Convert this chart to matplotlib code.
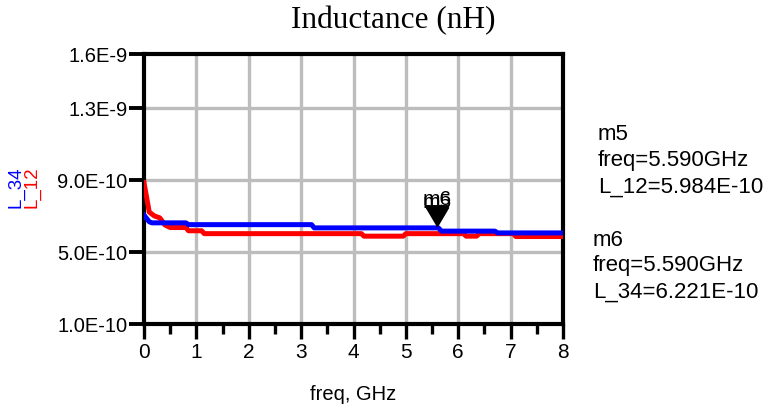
import numpy as np
import matplotlib.pyplot as plt
from matplotlib.path import Path

# data (freq in GHz, inductance in H)
freq_12 = [0.0, 0.1, 0.2, 0.3, 0.4, 0.5, 0.8, 0.85, 1.1, 1.15, 4.15, 4.2, 4.95, 5.0,
           6.1, 6.15, 6.35, 6.4, 7.05, 7.1, 8.0]
L_12 = [0.885, 0.722, 0.70, 0.69, 0.65, 0.636, 0.636, 0.618, 0.618, 0.602, 0.602, 0.588,
        0.588, 0.602, 0.602, 0.588, 0.588, 0.602, 0.602, 0.586, 0.586]
freq_34 = [0.0, 0.1, 0.15, 0.8, 0.85, 3.2, 3.25, 5.62, 5.68, 6.7, 6.75, 8.0]
L_34 = [0.705, 0.668, 0.662, 0.662, 0.652, 0.652, 0.634, 0.634, 0.616, 0.616, 0.606, 0.606]
L_12 = [v * 1e-9 for v in L_12]
L_34 = [v * 1e-9 for v in L_34]

m_freq = 5.59
m5_val = 5.984e-10
m6_val = 6.221e-10

yticks = [1.0e-10, 5.0e-10, 9.0e-10, 1.3e-9, 1.6e-9]
ytick_labels = ["1.0E-10", "5.0E-10", "9.0E-10", "1.3E-9", "1.6E-9"]
xticks = [0, 1, 2, 3, 4, 5, 6, 7, 8]

sans = "Liberation Sans"

fig = plt.figure(figsize=(7.66, 4.08), dpi=100)
ax = fig.add_axes([144 / 766, 1 - 324 / 408, (563 - 144) / 766, (324 - 54) / 408])

# grid
for x in xticks[1:-1]:
    ax.axvline(x, color="#bdbdbd", lw=2.4, zorder=1)
for y in yticks[1:-1]:
    ax.axhline(y, color="#bdbdbd", lw=2.4, zorder=1)

ax.plot(freq_12, L_12, color="#ff0000", lw=3.6, zorder=3, solid_joinstyle="round")
ax.plot(freq_34, L_34, color="#0000ff", lw=3.6, zorder=4, solid_joinstyle="round")

# markers m5 / m6 (drawn just above the traces, as in ADS)
tri = Path([(-0.65, 1.1), (0.65, 1.1), (0.0, 0.0), (-0.65, 1.1)])
ax.plot(m_freq, 6.45e-10, marker=tri, ms=27, color="black", zorder=5, clip_on=False)
ax.plot(m_freq, 6.55e-10, marker=tri, ms=27, color="black", zorder=5, clip_on=False)
ax.text(m_freq, 7.40e-10, "m6", fontsize=15, family=sans, ha="center", va="bottom", zorder=6)
ax.text(m_freq, 7.22e-10, "m5", fontsize=15, family=sans, ha="center", va="bottom", zorder=6)

ax.set_xlim(0, 8)
ax.set_ylim(1.0e-10, 1.6e-9)
ax.set_xticks(xticks)
ax.set_xticks(np.arange(0.5, 8, 1), minor=True)
ax.set_yticks(yticks)
ax.set_yticklabels(ytick_labels, family=sans, fontsize=14.5)
ax.set_xticklabels([str(x) for x in xticks], family=sans, fontsize=15)
ax.tick_params(axis="x", which="major", direction="out", length=11, width=2.4, pad=3)
ax.tick_params(axis="x", which="minor", direction="out", length=7, width=2.4)
ax.tick_params(axis="y", which="major", direction="out", length=11, width=2.8, pad=1)
for s in ax.spines.values():
    s.set_linewidth(3)
    s.set_color("black")

ax.set_xlabel("freq, GHz", family=sans, fontsize=14.5, labelpad=16)

# title
fig.text(393 / 766, 1 - 21 / 408, "Inductance (nH)", family="Liberation Serif",
         fontsize=22.5, ha="center", va="center")

# y label
fig.text(16 / 766, 1 - 187 / 408, "L_34", color="#0000ff", rotation=90, family=sans,
         fontsize=13.5, ha="center", va="center")
fig.text(32 / 766, 1 - 187 / 408, "L_12", color="#ff0000", rotation=90, family=sans,
         fontsize=13.5, ha="center", va="center")

# marker readouts
fig.text(598 / 766, 1 - 135 / 408, "m5", family=sans, fontsize=16, va="center")
fig.text(598 / 766, 1 - 161 / 408, "freq=5.590GHz", family=sans, fontsize=16, va="center")
fig.text(598 / 766, 1 - 187 / 408, "L_12=5.984E-10", family=sans, fontsize=16, va="center")
fig.text(593 / 766, 1 - 240 / 408, "m6", family=sans, fontsize=16, va="center")
fig.text(593 / 766, 1 - 266 / 408, "freq=5.590GHz", family=sans, fontsize=16, va="center")
fig.text(593 / 766, 1 - 292 / 408, "L_34=6.221E-10", family=sans, fontsize=16, va="center")

fig.savefig("out.png", dpi=100)
